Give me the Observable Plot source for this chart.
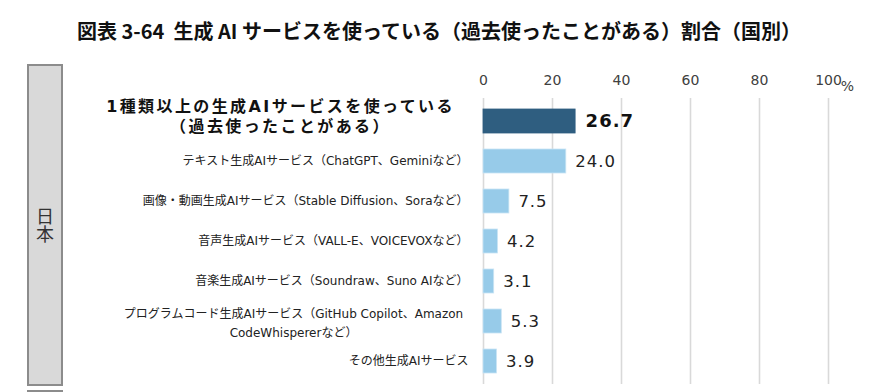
<!DOCTYPE html>
<html>
<head>
<meta charset="utf-8">
<script src="https://cdn.jsdelivr.net/npm/d3@7"></script>
<script src="https://cdn.jsdelivr.net/npm/@observablehq/plot@0.6"></script>
<style>
  html, body { margin: 0; padding: 0; background: #fff; }
  #wrap { position: relative; width: 878px; height: 392px; overflow: hidden; font-family: "DejaVu Sans", "Noto Sans CJK JP", sans-serif; }
  #title { position: absolute; left: 0; top: 17px; width: 878px; text-align: center; font-family: "Noto Sans CJK JP", sans-serif; font-weight: bold; font-size: 20px; line-height: 28px; color: #111; }
  #box { position: absolute; left: 27px; top: 64px; width: 32px; height: 318px; background: #d9d9d9; border: 2px solid #8c8c8c; }
  #box span { position: absolute; left: 0; top: 50%; width: 32px; transform: translateY(-50%); writing-mode: vertical-rl; text-orientation: upright; font-family: "Noto Sans CJK JP", sans-serif; font-size: 18px; color: #333; line-height: 32px; text-align: center; }
  #box2 { position: absolute; left: 27px; top: 390px; width: 32px; height: 20px; background: #d9d9d9; border: 2px solid #8c8c8c; }
  #chart { position: absolute; left: 0; top: 50px; }
</style>
</head>
<body>
<div id="wrap">
  <div id="title">図表 3-64&nbsp; 生成 AI サービスを使っている（過去使ったことがある）割合（国別）</div>
  <div id="box"><span>日本</span></div>
  <div id="box2"></div>
  <div id="chart"></div>
</div>
<script>
const categories = [
  "1種類以上の生成AIサービスを使っている\n（過去使ったことがある）",
  "テキスト生成AIサービス（ChatGPT、Geminiなど）",
  "画像・動画生成AIサービス（Stable Diffusion、Soraなど）",
  "音声生成AIサービス（VALL-E、VOICEVOXなど）",
  "音楽生成AIサービス（Soundraw、Suno AIなど）",
  "プログラムコード生成AIサービス（GitHub Copilot、Amazon\nCodeWhispererなど）",
  "その他生成AIサービス"
];
const values = [26.7, 24.0, 7.5, 4.2, 3.1, 5.3, 3.9];
const ticks = [0, 20, 40, 60, 80, 100];
const unit = "%";

const data = categories.map((c, i) => ({cat: c, value: values[i], i}));
const subLabels = data.filter(d => d.i > 0 && d.i !== 5);
const multiLabel = data.filter(d => d.i === 5);
const mainLabel = data.filter(d => d.i === 0);

const chart = Plot.plot({
  width: 878,
  height: 342,
  marginLeft: 483,
  marginRight: 50,
  marginTop: 48,
  marginBottom: 8,
  style: {fontFamily: "'DejaVu Sans', 'Noto Sans CJK JP', sans-serif", fontSize: "12px", color: "#333", background: "transparent"},
  x: {domain: [0, 100], axis: null},
  y: {domain: categories, axis: null, paddingInner: 0.41, paddingOuter: 0.205},
  marks: [
    Plot.ruleX(ticks, {stroke: "#d9d9d9", strokeWidth: 1.6}),
    Plot.axisX(ticks, {anchor: "top", label: null, tickSize: 0, tickPadding: 14, fontSize: 14, fill: "#404040", tickFormat: d => String(d), fontFamily: "'DejaVu Sans', sans-serif"}),
    Plot.text([unit], {x: () => 100, frameAnchor: "top", dy: -17, dx: 19, text: d => d, fontSize: 14, fill: "#404040"}),
    Plot.barX(data, {x: "value", y: "cat", fill: d => d.i === 0 ? "#2f5e80" : "#97cbe9", stroke: d => d.i === 0 ? "#2f5e80" : "#c9e4f4", strokeWidth: 0.8}),
    Plot.text(mainLabel, {x: "value", y: "cat", text: d => d.value.toFixed(1), textAnchor: "start", dx: 10, fontSize: 18, fontWeight: "bold", fill: "#111"}),
    Plot.text(data.filter(d => d.i > 0), {x: "value", y: "cat", text: d => d.value.toFixed(1), textAnchor: "start", dx: 9, fontSize: 16.5, fill: "#222"}),
    Plot.text(mainLabel, {x: () => 0, y: "cat", text: "cat", textAnchor: "middle", dx: -203, dy: -6, fontSize: 16, fontWeight: "bold", lineHeight: 1.25, fill: "#111"}),
    Plot.text(subLabels, {x: () => 0, y: "cat", text: "cat", textAnchor: "end", dx: -15, fontSize: 12, fill: "#222"}),
    Plot.text(multiLabel, {x: () => 0, y: "cat", text: "cat", textAnchor: "middle", dx: -190, fontSize: 12, lineHeight: 1.6, fill: "#222"})
  ]
});
// spacing tweaks to mimic the reference's wide letterforms
d3.select(chart).selectAll("text").each(function() {
  const t = this.textContent;
  if (t.startsWith("1種類")) this.style.letterSpacing = "2.4px";
  else if (/^\d+\.\d$/.test(t)) this.style.letterSpacing = "1px";
});
document.getElementById("chart").appendChild(chart);
</script>
</body>
</html>
